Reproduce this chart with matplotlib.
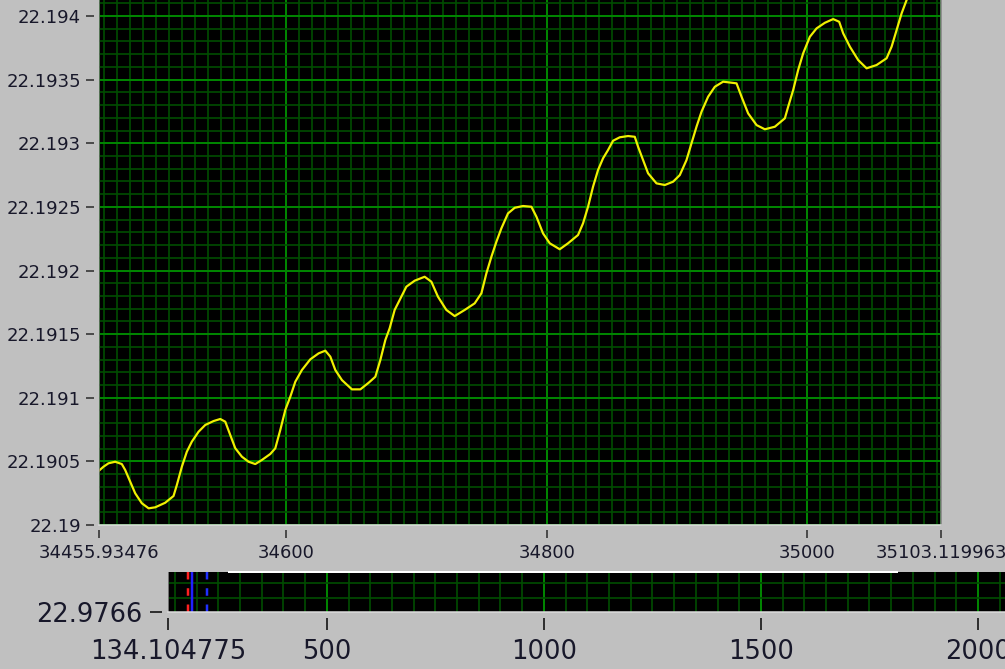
import numpy as np
import matplotlib.pyplot as plt
from matplotlib.ticker import MultipleLocator, FixedLocator

tiempo = [34455.90, 34459.39, 34463.24, 34468.39, 34473.47, 34476.08, 34479.93, 34483.77,
          34488.85, 34494.08, 34499.15, 34506.84, 34513.22, 34515.76, 34519.61, 34523.45,
          34527.30, 34532.45, 34537.60, 34543.99, 34549.14, 34552.99, 34556.83, 34560.68,
          34565.75, 34570.90, 34576.06, 34581.13, 34587.59, 34591.44, 34595.28, 34599.13,
          34602.97, 34606.82, 34611.89, 34618.35, 34624.74, 34629.89, 34633.73, 34637.58,
          34642.65, 34650.34, 34656.80, 34663.19, 34668.34, 34672.19, 34676.03, 34679.34,
          34683.18, 34687.03, 34692.18, 34698.56, 34706.25, 34711.40, 34716.48, 34722.94,
          34729.32, 34737.01, 34744.70, 34749.85, 34753.70, 34757.54, 34761.39, 34765.23,
          34770.31, 34775.46, 34781.84, 34788.30, 34792.15, 34797.22, 34802.38, 34810.07,
          34816.45, 34824.14, 34827.99, 34831.83, 34835.68, 34839.52, 34843.37, 34847.21,
          34851.06, 34856.21, 34862.59, 34867.74, 34870.28, 34874.13, 34877.97, 34884.43,
          34890.82, 34897.20, 34902.35, 34907.50, 34911.35, 34915.19, 34919.04, 34924.12,
          34929.27, 34935.65, 34942.11, 34945.96, 34949.80, 34954.88, 34961.34, 34967.72,
          34975.41, 34983.10, 34985.64, 34989.49, 34993.33, 34997.18, 35002.33, 35007.48,
          35013.87, 35020.25, 35024.86, 35027.94, 35033.09, 35039.47, 35045.93, 35053.62,
          35061.31, 35065.15, 35069.00, 35072.84, 35076.69, 35083.10]
valor = [22.190427, 22.190458, 22.190485, 22.190497, 22.190479, 22.190432, 22.190340, 22.190249,
         22.190171, 22.190131, 22.190139, 22.190175, 22.190228, 22.190314, 22.190458, 22.190576,
         22.190655, 22.190733, 22.190786, 22.190817, 22.190833, 22.190812, 22.190707, 22.190603,
         22.190537, 22.190497, 22.190479, 22.190511, 22.190558, 22.190603, 22.190747, 22.190904,
         22.191008, 22.191126, 22.191218, 22.191302, 22.191349, 22.191370, 22.191323, 22.191218,
         22.191139, 22.191066, 22.191066, 22.191118, 22.191165, 22.191297, 22.191454, 22.191546,
         22.191690, 22.191768, 22.191873, 22.191920, 22.191951, 22.191912, 22.191794, 22.191690,
         22.191642, 22.191690, 22.191742, 22.191821, 22.191978, 22.192108, 22.192226, 22.192332,
         22.192449, 22.192493, 22.192507, 22.192501, 22.192423, 22.192292, 22.192214, 22.192167,
         22.192214, 22.192279, 22.192371, 22.192501, 22.192659, 22.192790, 22.192882, 22.192947,
         22.193020, 22.193047, 22.193057, 22.193051, 22.192973, 22.192868, 22.192764, 22.192685,
         22.192672, 22.192698, 22.192750, 22.192868, 22.193000, 22.193130, 22.193248, 22.193366,
         22.193444, 22.193484, 22.193476, 22.193471, 22.193366, 22.193235, 22.193143, 22.193110,
         22.193130, 22.193196, 22.193287, 22.193418, 22.193576, 22.193707, 22.193837, 22.193903,
         22.193947, 22.193976, 22.193955, 22.193864, 22.193759, 22.193654, 22.193589, 22.193615,
         22.193668, 22.193759, 22.193890, 22.194021, 22.194126, 22.194320]

x_min, x_max = 34455.93476, 35103.119963
y_min, y_max = 22.19, 22.194126
xticks = [x_min, 34600, 34800, 35000, x_max]
xtick_labels = ['34455.93476', '34600', '34800', '35000', '35103.119963']
yticks = [22.19, 22.1905, 22.191, 22.1915, 22.192, 22.1925, 22.193, 22.1935, 22.194]
ytick_labels = ['22.19', '22.1905', '22.191', '22.1915', '22.192', '22.1925', '22.193', '22.1935', '22.194']

# Grafica inferior (vista general)
strip_xmin, strip_xmax = 134.104775, 2119.8
strip_xticks = [strip_xmin, 500, 1000, 1500, 2000]
strip_xlabels = ['134.104775', '500', '1000', '1500', '2000']
strip_ymin = 22.9766
cursor_rojo = 180.2
cursor_azul = 190.1
cursor_azul2 = 224.6

gris = '#c0c0c0'
texto = '#18182a'
px = 0.72  # 1 pixel en puntos

fig = plt.figure(figsize=(10.05, 6.69), dpi=100, facecolor=gris)

# Grafica principal
ax = fig.add_axes([99 / 1005, 144 / 669, 842 / 1005, 525 / 669])
ax.set_facecolor('black')
ax.plot(tiempo, valor, color='#f0f000', lw=2.2 * px, zorder=3)
ax.set_xlim(x_min, x_max)
ax.set_ylim(y_min, y_max)
ax.set_xticks(xticks, xtick_labels)
ax.set_yticks(yticks, ytick_labels)
ax.xaxis.set_minor_locator(MultipleLocator(10))
ax.yaxis.set_minor_locator(MultipleLocator(0.0001))
ax.set_axisbelow(True)
ax.grid(which='minor', color='#004c00', lw=1.7 * px)
ax.grid(which='major', color='#008400', lw=2.0 * px)
ax.tick_params(which='minor', length=0)
ax.tick_params(which='major', length=8 * px, width=1.6 * px, color='#303030',
               labelsize=13, labelcolor=texto)
ax.tick_params(axis='x', pad=6.5 * px)
ax.tick_params(axis='y', pad=5 * px)
for s in ['left', 'bottom']:
    ax.spines[s].set_position(('outward', 5 * px))
    ax.spines[s].set_visible(False)
ax.spines['top'].set_visible(False)
ax.spines['right'].set_color('#808080')
ax.spines['right'].set_linewidth(1.5 * px)
ax.axvline(x_min, color='#707070', lw=1.5 * px, zorder=4)
ax.axhline(y_min, color='#dedede', lw=1.5 * px, zorder=4, clip_on=False)

# Grafica inferior
ax2 = fig.add_axes([168 / 1005, 57 / 669, 862 / 1005, 40 / 669])
ax2.set_facecolor('black')
ax2.set_xlim(strip_xmin, strip_xmax)
ax2.set_ylim(strip_ymin, strip_ymin + 0.0028)
ax2.set_xticks(strip_xticks, strip_xlabels)
ax2.set_yticks([strip_ymin], ['22.9766'])
ax2.xaxis.set_minor_locator(MultipleLocator(50))
ax2.yaxis.set_minor_locator(FixedLocator([strip_ymin + 0.001, strip_ymin + 0.002]))
ax2.set_axisbelow(True)
ax2.grid(which='minor', color='#004c00', lw=1.7 * px)
ax2.grid(which='major', axis='x', color='#008400', lw=2.0 * px)
ax2.tick_params(which='minor', length=0)
ax2.tick_params(which='major', length=12 * px, width=2 * px, color='#303030',
                labelsize=18.5, labelcolor=texto)
ax2.tick_params(axis='x', pad=9 * px)
ax2.tick_params(axis='y', pad=8 * px)
for s in ['left', 'bottom']:
    ax2.spines[s].set_position(('outward', 6 * px))
    ax2.spines[s].set_visible(False)
ax2.spines['top'].set_visible(False)
ax2.spines['right'].set_visible(False)
ax2.axvline(strip_xmin, color='#707070', lw=2 * px, zorder=4)
ax2.axhline(strip_ymin, color='#dedede', lw=1.5 * px, zorder=4, clip_on=False)
ax2.axvline(cursor_rojo, color='#ff2020', lw=2.5 * px, ls=(0, (3, 3.5)), zorder=3)
ax2.axvline(cursor_azul, color='#2020ff', lw=2.5 * px, zorder=3)
ax2.axvline(cursor_azul2, color='#2030ff', lw=2.5 * px, ls=(0, (3, 3.5)), zorder=3)
ax2.axhline(strip_ymin + 0.0028, xmin=(229 - 168) / 862, xmax=(897 - 168) / 862,
            color='white', lw=2 * px, zorder=5, clip_on=False)

fig.savefig('out.png', dpi=100, facecolor=gris)
